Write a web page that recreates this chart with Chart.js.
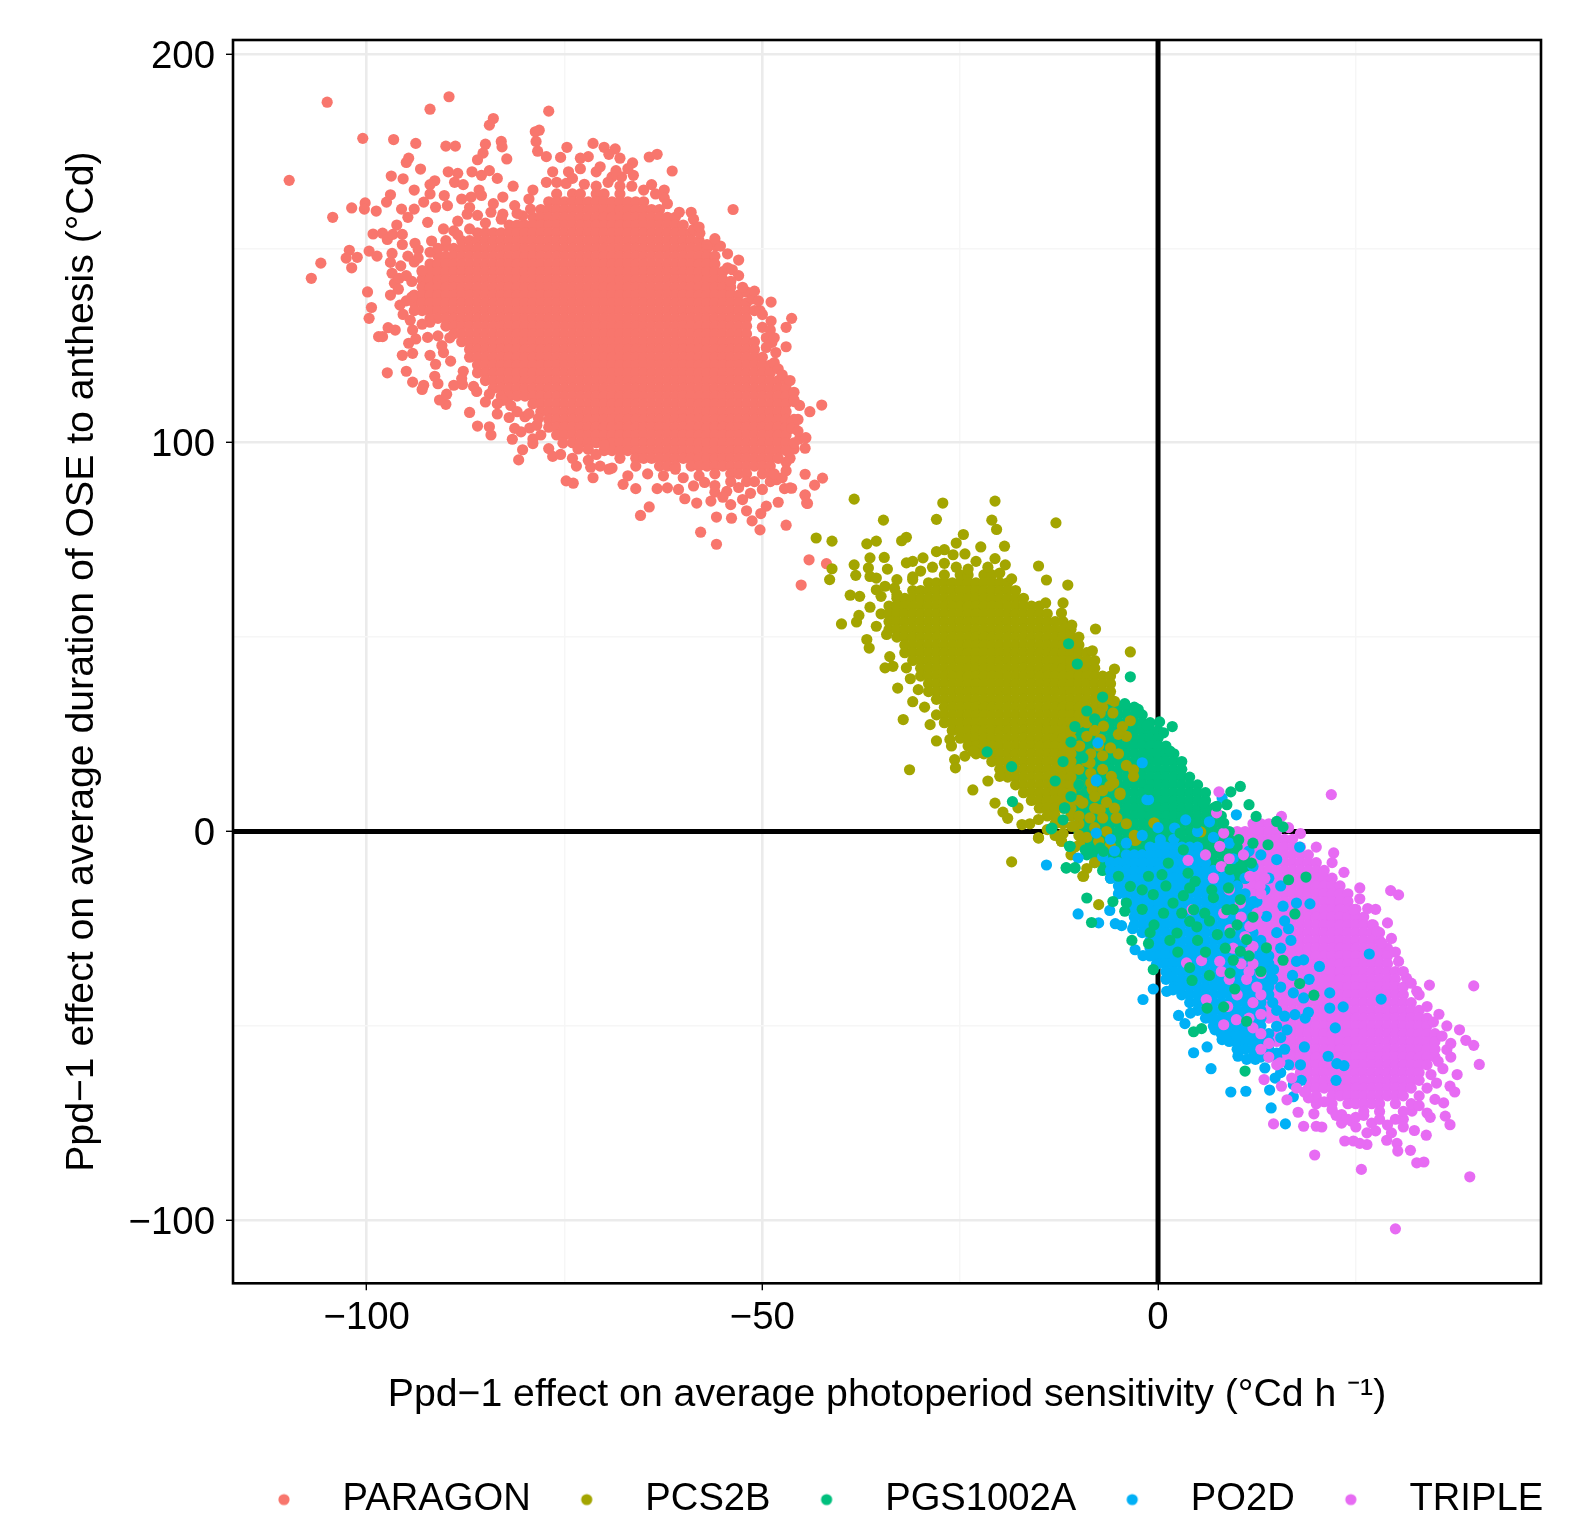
<!DOCTYPE html>
<html><head><meta charset="utf-8">
<script src="https://cdn.jsdelivr.net/npm/chart.js@4"></script>
<style>html,body{margin:0;padding:0;background:#fff}canvas{display:block}</style>
</head><body><canvas id="c" width="1573" height="1520"></canvas>
<script>
const seriesNames = ["PARAGON","PCS2B","PGS1002A","PO2D","TRIPLE"];
const seriesColors = ["#F8766D","#A3A500","#00BF7D","#00B0F6","#E76BF3"];
const xMajor = [-100,-50,0];
const xMinor = [-75,-25,25];
const yMajor = [-100,0,100,200];
const yMinor = [-50,50,150];
const refLineAt = 0;
const xTitle = "Ppd\u22121 effect on average photoperiod sensitivity (\u00B0Cd h \u207B\u00B9)";
const yTitle = "Ppd\u22121 effect on average duration of OSE to anthesis (\u00B0Cd)";

// Solid regions of the clouds, read row by row: [y, x, x, ...]
const paragonCore = [
[164,-76,-74,-73,-71,-70,-68],
[162,-77,-76,-75,-74,-73,-72,-71,-70,-69,-68,-67,-66,-65],
[160,-78,-77,-76,-75,-74,-73,-72,-71,-70,-69,-68,-67,-66,-65,-64,-63],
[158,-79,-78,-77,-76,-75,-74,-73,-72,-71,-70,-69,-68,-67,-66,-65,-64,-63,-62,-61],
[156,-82,-81,-80,-79,-78,-77,-76,-75,-74,-73,-72,-71,-70,-69,-68,-67,-66,-65,-64,-63,-62,-61,-60],
[154,-86,-85,-84,-83,-82,-81,-80,-79,-78,-77,-76,-75,-74,-73,-72,-71,-70,-69,-68,-67,-66,-65,-64,-63,-62,-61,-60,-59],
[152,-88,-87,-86,-85,-84,-83,-82,-81,-80,-79,-78,-77,-76,-75,-74,-73,-72,-71,-70,-69,-68,-67,-66,-65,-64,-63,-62,-61,-60,-59,-58],
[150,-89,-88,-87,-86,-85,-84,-83,-82,-81,-80,-79,-78,-77,-76,-75,-74,-73,-72,-71,-70,-69,-68,-67,-66,-65,-64,-63,-62,-61,-60,-59,-58,-57],
[148,-91,-90,-89,-88,-87,-86,-85,-84,-83,-82,-81,-80,-79,-78,-77,-76,-75,-74,-73,-72,-71,-70,-69,-68,-67,-66,-65,-64,-63,-62,-61,-60,-59,-58,-57,-56],
[146,-92,-91,-90,-89,-88,-87,-86,-85,-84,-83,-82,-81,-80,-79,-78,-77,-76,-75,-74,-73,-72,-71,-70,-69,-68,-67,-66,-65,-64,-63,-62,-61,-60,-59,-58,-57,-56],
[144,-93,-92,-91,-90,-89,-88,-87,-86,-85,-84,-83,-82,-81,-80,-79,-78,-77,-76,-75,-74,-73,-72,-71,-70,-69,-68,-67,-66,-65,-64,-63,-62,-61,-60,-59,-58,-57,-56,-55],
[142,-93,-92,-91,-90,-89,-88,-87,-86,-85,-84,-83,-82,-81,-80,-79,-78,-77,-76,-75,-74,-73,-72,-71,-70,-69,-68,-67,-66,-65,-64,-63,-62,-61,-60,-59,-58,-57,-56,-55],
[140,-93,-92,-91,-90,-89,-88,-87,-86,-85,-84,-83,-82,-81,-80,-79,-78,-77,-76,-75,-74,-73,-72,-71,-70,-69,-68,-67,-66,-65,-64,-63,-62,-61,-60,-59,-58,-57,-56,-55,-54],
[138,-94,-93,-92,-91,-90,-89,-88,-87,-86,-85,-84,-83,-82,-81,-80,-79,-78,-77,-76,-75,-74,-73,-72,-71,-70,-69,-68,-67,-66,-65,-64,-63,-62,-61,-60,-59,-58,-57,-56,-55,-54,-53],
[136,-94,-93,-92,-91,-90,-89,-88,-87,-86,-85,-84,-83,-82,-81,-80,-79,-78,-77,-76,-75,-74,-73,-72,-71,-70,-69,-68,-67,-66,-65,-64,-63,-62,-61,-60,-59,-58,-57,-56,-55,-54,-53,-52],
[134,-93,-92,-91,-90,-89,-88,-87,-86,-85,-84,-83,-82,-81,-80,-79,-78,-77,-76,-75,-74,-73,-72,-71,-70,-69,-68,-67,-66,-65,-64,-63,-62,-61,-60,-59,-58,-57,-56,-55,-54,-53,-52,-51],
[132,-92,-91,-90,-89,-88,-87,-86,-85,-84,-83,-82,-81,-80,-79,-78,-77,-76,-75,-74,-73,-72,-71,-70,-69,-68,-67,-66,-65,-64,-63,-62,-61,-60,-59,-58,-57,-56,-55,-54,-53,-52],
[130,-90,-89,-88,-87,-86,-85,-84,-83,-82,-81,-80,-79,-78,-77,-76,-75,-74,-73,-72,-71,-70,-69,-68,-67,-66,-65,-64,-63,-62,-61,-60,-59,-58,-57,-56,-55,-54,-53,-52],
[128,-89,-88,-87,-86,-85,-84,-83,-82,-81,-80,-79,-78,-77,-76,-75,-74,-73,-72,-71,-70,-69,-68,-67,-66,-65,-64,-63,-62,-61,-60,-59,-58,-57,-56,-55,-54,-53,-52],
[126,-88,-87,-86,-85,-84,-83,-82,-81,-80,-79,-78,-77,-76,-75,-74,-73,-72,-71,-70,-69,-68,-67,-66,-65,-64,-63,-62,-61,-60,-59,-58,-57,-56,-55,-54,-53,-52,-51],
[124,-87,-86,-85,-84,-83,-82,-81,-80,-79,-78,-77,-76,-75,-74,-73,-72,-71,-70,-69,-68,-67,-66,-65,-64,-63,-62,-61,-60,-59,-58,-57,-56,-55,-54,-53,-52,-51],
[122,-87,-86,-85,-84,-83,-82,-81,-80,-79,-78,-77,-76,-75,-74,-73,-72,-71,-70,-69,-68,-67,-66,-65,-64,-63,-62,-61,-60,-59,-58,-57,-56,-55,-54,-53,-52,-51,-50],
[120,-86,-85,-84,-83,-82,-81,-80,-79,-78,-77,-76,-75,-74,-73,-72,-71,-70,-69,-68,-67,-66,-65,-64,-63,-62,-61,-60,-59,-58,-57,-56,-55,-54,-53,-52,-51,-50,-49],
[118,-86,-85,-84,-83,-82,-81,-80,-79,-78,-77,-76,-75,-74,-73,-72,-71,-70,-69,-68,-67,-66,-65,-64,-63,-62,-61,-60,-59,-58,-57,-56,-55,-54,-53,-52,-51,-50,-49],
[116,-85,-84,-83,-82,-81,-80,-79,-78,-77,-76,-75,-74,-73,-72,-71,-70,-69,-68,-67,-66,-65,-64,-63,-62,-61,-60,-59,-58,-57,-56,-55,-54,-53,-52,-51,-50,-49,-48,-47],
[114,-84,-83,-82,-81,-80,-79,-78,-77,-76,-75,-74,-73,-72,-71,-70,-69,-68,-67,-66,-65,-64,-63,-62,-61,-60,-59,-58,-57,-56,-55,-54,-53,-52,-51,-50,-49,-48,-47],
[112,-83,-82,-81,-80,-79,-78,-77,-76,-75,-74,-73,-72,-71,-70,-69,-68,-67,-66,-65,-64,-63,-62,-61,-60,-59,-58,-57,-56,-55,-54,-53,-52,-51,-50,-49,-48,-47],
[110,-79,-78,-77,-76,-75,-74,-73,-72,-71,-70,-69,-68,-67,-66,-65,-64,-63,-62,-61,-60,-59,-58,-57,-56,-55,-54,-53,-52,-51,-50,-49,-48,-47],
[108,-78,-77,-76,-75,-74,-73,-72,-71,-70,-69,-68,-67,-66,-65,-64,-63,-62,-61,-60,-59,-58,-57,-56,-55,-54,-53,-52,-51,-50,-49,-48,-47],
[106,-77,-76,-75,-74,-73,-72,-71,-70,-69,-68,-67,-66,-65,-64,-63,-62,-61,-60,-59,-58,-57,-56,-55,-54,-53,-52,-51,-50,-49,-48,-47,-46],
[104,-77,-76,-75,-74,-73,-72,-71,-70,-69,-68,-67,-66,-65,-64,-63,-62,-61,-60,-59,-58,-57,-56,-55,-54,-53,-52,-51,-50,-49,-48,-47,-46],
[102,-76,-75,-74,-73,-72,-71,-70,-69,-68,-67,-66,-65,-64,-63,-62,-61,-60,-59,-58,-57,-56,-55,-54,-53,-52,-51,-50,-49,-48,-47],
[100,-74,-73,-72,-71,-70,-69,-68,-67,-66,-65,-64,-63,-62,-61,-60,-59,-58,-57,-56,-55,-54,-53,-52,-51,-50,-49,-48,-47],
[98,-70,-69,-68,-67,-66,-65,-64,-63,-62,-61,-60,-59,-58,-57,-56,-55,-54,-53,-52,-51,-50,-49,-48],
[96,-66,-65,-64,-63,-62,-61,-60,-59,-58,-57,-56,-55,-54,-53,-52,-51,-50,-49,-48],
[94,-63,-62,-61,-59,-58,-57,-56,-55,-54,-53,-52,-51,-50,-49],
[92,-56,-54,-53,-52,-50,-49],
[90,-54,-52,-51]
];
const pcs2bCore = [
[66,-27,-25,-24,-22,-21],
[64,-29,-28,-27,-26,-25,-24,-23,-22,-21,-20,-19],
[62,-31,-30,-29,-28,-27,-26,-25,-24,-23,-22,-21,-20,-19,-18],
[60,-33,-32,-31,-30,-29,-28,-27,-26,-25,-24,-23,-22,-21,-20,-19,-18,-17],
[58,-34,-33,-32,-31,-30,-29,-28,-27,-26,-25,-24,-23,-22,-21,-20,-19,-18,-17,-16,-15],
[56,-35,-34,-33,-32,-31,-30,-29,-28,-27,-26,-25,-24,-23,-22,-21,-20,-19,-18,-17,-16,-15,-14],
[54,-34,-33,-32,-31,-30,-29,-28,-27,-26,-25,-24,-23,-22,-21,-20,-19,-18,-17,-16,-15,-14,-13,-12],
[52,-34,-33,-32,-31,-30,-29,-28,-27,-26,-25,-24,-23,-22,-21,-20,-19,-18,-17,-16,-15,-14,-13,-12,-11],
[50,-33,-32,-31,-30,-29,-28,-27,-26,-25,-24,-23,-22,-21,-20,-19,-18,-17,-16,-15,-14,-13,-12,-11,-10],
[48,-32,-31,-30,-29,-28,-27,-26,-25,-24,-23,-22,-21,-20,-19,-18,-17,-16,-15,-14,-13,-12,-11,-10],
[46,-32,-31,-30,-29,-28,-27,-26,-25,-24,-23,-22,-21,-20,-19,-18,-17,-16,-15,-14,-13,-12,-11,-10,-9],
[44,-31,-30,-29,-28,-27,-26,-25,-24,-23,-22,-21,-20,-19,-18,-17,-16,-15,-14,-13,-12,-11,-10,-9,-8],
[42,-30,-29,-28,-27,-26,-25,-24,-23,-22,-21,-20,-19,-18,-17,-16,-15,-14,-13,-12,-11,-10,-9,-8],
[40,-30,-29,-28,-27,-26,-25,-24,-23,-22,-21,-20,-19,-18,-17,-16,-15,-14,-13,-12,-11,-10,-9,-8,-7,-6],
[38,-29,-28,-27,-26,-25,-24,-23,-22,-21,-20,-19,-18,-17,-16,-15,-14,-13,-12,-11,-10,-9,-8,-7,-6],
[36,-29,-28,-27,-26,-25,-24,-23,-22,-21,-20,-19,-18,-17,-16,-15,-14,-13,-12,-11,-10,-9,-8,-7,-6],
[34,-28,-27,-26,-25,-24,-23,-22,-21,-20,-19,-18,-17,-16,-15,-14,-13,-12,-11,-10,-9,-8,-7,-6],
[32,-27,-26,-25,-24,-23,-22,-21,-20,-19,-18,-17,-16,-15,-14,-13,-12,-11,-10,-9,-8,-7],
[30,-28,-27,-26,-25,-24,-23,-22,-21,-20,-19,-18,-17,-16,-15,-14,-13,-12,-11,-10,-9,-8],
[28,-27,-26,-25,-24,-23,-22,-21,-20,-19,-18,-17,-16,-15,-14,-13,-12,-11,-10],
[26,-26,-25,-24,-23,-22,-21,-20,-19,-18,-17,-16,-15,-14,-13,-12,-11],
[24,-25,-24,-23,-22,-21,-20,-19,-18,-17,-16,-15,-14,-13,-12,-11],
[22,-24,-23,-22,-21,-20,-19,-18,-17,-16,-15,-14,-13,-12,-11,-10],
[20,-23,-22,-21,-20,-19,-18,-17,-16,-15,-14,-13,-12,-11],
[18,-21,-20,-19,-18,-17,-16,-15,-14,-13,-12,-11],
[16,-20,-19,-18,-17,-16,-15,-14,-13,-12,-11,-10],
[14,-19,-18,-17,-16,-15,-14,-13,-12,-11],
[12,-18,-17,-16,-15,-14,-13,-12,-11,-10],
[10,-17,-16,-15,-14,-13,-12,-11],
[8,-16,-15,-14,-13,-12,-11,-10],
[6,-15,-14,-13,-12,-11],
[4,-14,-13,-11,-10],
[2,-13,-12,-10]
];
const pgsCore = [
[32,-6,-5,-4,-3],
[30,-8,-7,-6,-5,-4,-3,-2],
[28,-9,-8,-7,-6,-5,-4,-3,-2,-1],
[26,-10,-9,-8,-7,-6,-5,-4,-3,-2,-1,0],
[24,-10,-9,-8,-7,-6,-5,-4,-3,-2,-1,0],
[22,-10,-9,-8,-7,-6,-5,-4,-3,-2,-1,0,1],
[20,-11,-10,-9,-8,-7,-6,-5,-4,-3,-2,-1,0,1,2],
[18,-11,-10,-9,-8,-7,-6,-5,-4,-3,-2,-1,0,1,2,3],
[16,-11,-10,-9,-8,-7,-6,-5,-4,-3,-2,-1,0,1,2,3],
[14,-12,-11,-10,-9,-8,-7,-6,-5,-4,-3,-2,-1,0,1,2,3,4],
[12,-12,-11,-10,-9,-8,-7,-6,-5,-4,-3,-2,-1,0,1,2,3,4,5],
[10,-12,-11,-10,-9,-8,-7,-6,-5,-4,-3,-2,-1,0,1,2,3,4,5,6],
[8,-12,-11,-10,-9,-8,-7,-6,-5,-4,-3,-2,-1,0,1,2,3,4,5,6],
[6,-11,-10,-9,-8,-7,-6,-5,-4,-3,-2,-1,0,1,2,3,4,5,6,7],
[4,-11,-10,-9,-8,-7,-6,-5,-4,-3,-2,-1,0,1,2,3,4,5,6,7,8],
[2,-10,-9,-8,-7,-6,-5,-4,-3,-2,-1,0,1,2,3,4,5,6,7,8],
[0,-10,-9,-8,-7,-6,-5,-4,-3,-2,-1,0,1,2,3,4,5,6,7,8,9],
[-2,-9,-8,-7,-6,-5,-4,-3,-2,-1,0,1,2,3,4,5,6,7,8,9],
[-4,-9,-8,-7,-6,-5,-4,-3,-2,-1,0,1,2,3,4,5,6,7,8,9,10],
[-6,-9,-8,-7,-6,-5,-4,-3,-2,-1,0,1,2,3,4,5,6,7,8,9,10,11],
[-8,-8,-7,-6,-5,-4,-3,-2,-1,0,1,2,3,4,5,6,7,8,9,10,11],
[-10,-7,-6,-5,-4,-3,-2,-1,0,1,2,3,4,5,6,7,8,9,10,11],
[-12,-6,-5,-4,-3,-2,-1,0,1,2,3,4,5,6,7,8,9,10,11],
[-14,-4,-3,-2,-1,0,1,2,3,4,5,6,7,8,9,10]
];
const po2dCore = [
[-4,-1,0,1,2,3,4,5],
[-6,-4,-3,-2,-1,0,1,2,3,4,5],
[-8,-6,-5,-4,-3,-2,-1,0,1,2,3,4,5,6],
[-10,-6,-5,-4,-3,-2,-1,0,1,2,3,4,5,6,7],
[-12,-6,-5,-4,-3,-2,-1,0,1,2,3,4,5,6,7,8,9],
[-14,-5,-4,-3,-2,-1,0,1,2,3,4,5,6,7,8,9,10],
[-16,-5,-4,-3,-2,-1,0,1,2,3,4,5,6,7,8,9,10,11],
[-18,-4,-3,-2,-1,0,1,2,3,4,5,6,7,8,9,10,11,12],
[-20,-3,-2,-1,0,1,2,3,4,5,6,7,8,9,10,11,12],
[-22,-3,-2,-1,0,1,2,3,4,5,6,7,8,9,10,11],
[-24,-3,-2,-1,0,1,2,3,4,5,6,7,8,9,10,11],
[-26,-2,-1,0,1,2,3,4,5,6,7,8,9,10,11,12],
[-28,-1,0,1,2,3,4,5,6,7,8,9,10,11,12,13],
[-30,-1,0,1,2,3,4,5,6,7,8,9,10,11,12,13],
[-32,-1,0,1,2,3,4,5,6,7,8,9,10,11,12,13,14],
[-34,0,1,2,3,4,5,6,7,8,9,10,11,12,13,14],
[-36,1,2,3,4,5,6,7,8,9,10,11,12,13,14],
[-38,1,2,3,4,5,6,7,8,9,10,11,12,13,14],
[-40,2,3,4,5,6,7,8,9,10,11,12,13,14],
[-42,3,4,5,6,7,8,9,10,11,12,13,14],
[-44,4,5,6,7,8,9,10,11,12,13],
[-46,5,6,7,8,9,10,11,12,13],
[-48,6,7,8,9,10,11,12,13],
[-50,7,8,9,10,11,12,13],
[-52,8,9,10,11,12,13,14],
[-54,9,10,11,12,13,14],
[-56,10,11,12,13,14],
[-58,12,13,14,15]
];
const tripleCore = [
[2,12,13,14,15],
[0,10,11,12,13,14,15],
[-2,10,11,12,13,14,15,16,17],
[-4,10,11,12,13,14,15,16,17,18],
[-6,10,11,12,13,14,15,16,17,18,19],
[-8,11,12,13,14,15,16,17,18,19,20],
[-10,11,12,13,14,15,16,17,18,19,20,21],
[-12,11,12,13,14,15,16,17,18,19,20,21,22],
[-14,11,12,13,14,15,16,17,18,19,20,21,22,23],
[-16,12,13,14,15,16,17,18,19,20,21,22,23,24],
[-18,12,13,14,15,16,17,18,19,20,21,22,23,24],
[-20,13,14,15,16,17,18,19,20,21,22,23,24,25],
[-22,13,14,15,16,17,18,19,20,21,22,23,24,25,26],
[-24,13,14,15,16,17,18,19,20,21,22,23,24,25,26,27],
[-26,13,14,15,16,17,18,19,20,21,22,23,24,25,26,27,28],
[-28,13,14,15,16,17,18,19,20,21,22,23,24,25,26,27,28],
[-30,13,14,15,16,17,18,19,20,21,22,23,24,25,26,27,28,29],
[-32,13,14,15,16,17,18,19,20,21,22,23,24,25,26,27,28,29],
[-34,13,14,15,16,17,18,19,20,21,22,23,24,25,26,27,28,29],
[-36,13,14,15,16,17,18,19,20,21,22,23,24,25,26,27,28,29,30],
[-38,13,14,15,16,17,18,19,20,21,22,23,24,25,26,27,28,29,30],
[-40,14,15,16,17,18,19,20,21,22,23,24,25,26,27,28,29,30,31],
[-42,14,15,16,17,18,19,20,21,22,23,24,25,26,27,28,29,30,31],
[-44,14,15,16,17,18,19,20,21,22,23,24,25,26,27,28,29,30,31,32],
[-46,14,15,16,17,18,19,20,21,22,23,24,25,26,27,28,29,30,31,32,33],
[-48,14,15,16,17,18,19,20,21,22,23,24,25,26,27,28,29,30,31,32,33,34],
[-50,15,16,17,18,19,20,21,22,23,24,25,26,27,28,29,30,31,32,33,34],
[-52,15,16,17,18,19,20,21,22,23,24,25,26,27,28,29,30,31,32,33,34,35],
[-54,15,16,17,18,19,20,21,22,23,24,25,26,27,28,29,30,31,32,33,34,35],
[-56,16,17,18,19,20,21,22,23,24,25,26,27,28,29,30,31,32,33,34,35],
[-58,16,17,18,19,20,21,22,23,24,25,26,27,28,29,30,31,32,33,34,35],
[-60,17,18,19,20,21,22,23,24,25,26,27,28,29,30,31,32,33,34],
[-62,18,19,20,21,22,23,24,25,26,27,28,29,30,31,32,33],
[-64,19,20,21,22,23,24,25,26,27,28,29,30,31,32,33],
[-66,19,20,21,22,23,24,25,26,27,28,29,30,31,32],
[-68,20,22,23,24,25,26,27,28,29,30,31],
[-70,22,24,25,26,27,28,30],
[-72,26,28]
];

// Individually visible dots: x,y pairs
const paragonDots = [-105,187.6,-89.6,189,-92,185.8,-77,185.3,-84,183.4,-84.5,181.7,-78.2,180.4,-78.7,180,-78.6,177.5,-78.4,175,-77.3,173.6,-100.5,178.3,-96.6,178,-93.8,177,-90,176.3,-88.8,176.3,-85,176.8,-83,177.5,-82.9,176.1,-82.3,173,-74.7,176,-71.4,177,-70,176,-68.6,175.6,-69.4,174.2,-68,173.2,-66.4,172,-64.3,173.5,-63.3,174.2,-61.4,169.9,-109.8,167.5,-94.7,173.2,-95,172.1,-93.2,170.4,-96.9,168.6,-95.4,167.9,-85.3,174.5,-86,172.8,-86.7,169.7,-85.5,168.8,-84.5,170,-89.7,169.7,-88.5,169.3,-88.9,167,-87.8,166.4,-83.5,168,-81.5,166,-79,165,-91.4,167.4,-92,166.4,-94,165,-92,164,-85.8,165,-85.5,163.6,-88,162.7,-82.8,163.2,-90.2,163.6,-97,163.8,-97.5,161.9,-100.2,161.7,-100.3,160.1,-101.9,160.4,-98.8,159.6,-104.3,158,-53.7,160,-62.4,165,-62.4,163,-64,166.4,-66.3,168.8,-67.8,168.4,-69,168.4,-74.8,166.7,-77.3,167,-76.5,169.7,-72,173.6,-73,173.2,-75.5,173.4,-74.5,169.7,-71,169.7,-60.5,159.3,-59,159.3,-58.7,157.5,-58.7,154.9,-57.9,153.9,-55.9,150.6,-55.3,150.6,-54.4,148.6,-54.4,145,-53.8,144.5,-53,143,-54,141.5,-52,138.8,-51.3,137,-48.9,136.2,-50.3,134,-46.3,132,-48.9,131.3,-47,129.7,-50,129.7,-49.5,127,-48.8,125.8,-47,124.7,-49.5,124.5,-48.3,123.2,-48.5,120.6,-46,110.6,-45.3,109.6,-44,108,-42.5,109.7,-46.3,105.4,-46.3,103.7,-45.3,101,-44.5,101.3,-46,98.4,-44.6,98.6,-47,95,-47,92.8,-44.6,91.9,-42.4,90.9,-43.4,89.1,-46.3,88.3,-47.2,88.2,-44.6,86.5,-44.3,84.4,-48,84.7,-49.5,83.7,-50.2,81.8,-47,78.8,-51.3,79.9,-50.3,77.6,-53.9,80.6,-55.8,80.9,-57.8,77,-55.8,73.9,-64.3,83.5,-65.4,81.3,-52.5,85.4,-54,84.1,-58.3,84.5,-59.8,85.6,-60.6,88,-62,88.4,-63.3,88.2,-66,88.2,-67.6,89.3,-56,87.3,-58.7,88.9,-57.3,89.8,-61,93.2,-74.8,90.2,-73.9,89.6,-71.4,91,-71.7,93.7,-69.4,93.2,-70.5,94,-73.5,94,-74,96,-72,98.3,-73.3,98.4,-75.2,99.9,-70,99.5,-80.8,95.6,-80.3,98.2,-79,99.8,-81.6,100.9,-80.5,102.8,-79.4,103.8,-81.3,103.7,-78.3,106.3,-80,106.7,-82,106.5,-84.3,102,-84.5,104.1,-86,104.3,-83.5,107.4,-87,107.8,-82.8,110.9,-81.8,109.6,-90,109.9,-90.8,111,-89.9,112.5,-86.1,113.2,-84.5,112.5,-87.9,115,-89,114.8,-91,115.2,-92.8,114.8,-93,113.7,-94.2,115.6,-97.4,118,-95,118.4,-91.4,117.1,-91.3,120.2,-89.4,121,-92,122.5,-94.2,123,-95.5,122.5,-90.3,123.2,-87.8,118.4,-94.7,125.6,-93.8,126.7,-92.3,127.1,-98.5,127.3,-98,127.3,-97.3,129.6,-96.4,129,-94.2,129,-99.7,132,-99.4,134.8,-99.9,138.8,-97,138,-95.8,135.4,-95.4,133,-94.3,137.5,-94,134,-107,142.3,-105.8,146.2,-102.2,149.5,-102.6,147.5,-101.2,147.7,-101.9,145,-99.7,149.3,-98.7,148,-96.8,148.7,-97,146.4,-95.7,145.5,-96.8,143.6,-96.5,141,-95.9,142.3,-94.3,141.5,-93,144.3,-99.2,153.7,-98,153.9,-97.4,152.3,-96.7,153.6,-95.5,151,-93.9,151.3,-95.5,153.6,-96.2,156,-95.6,160.1,-94,160.1,-94.8,158,-92.8,161.9,-91.3,160.6,-89.8,161,-87.3,158.8,-84.3,159.3,-92.3,156.7,-90.3,155,-89,154.5,-91.8,151.9,-90,150.6,-81.3,161,-79.5,162.7,-82.8,158.8,-80.3,158.4,-86.8,163.2,-79.3,160.1,-93.5,149.7,-94.8,148,-44.1,69.9,-41.9,68.9,-45.1,63.4,-44.4,84.5,-44.6,86.6,-46.5,88.4,
-76,167,-74,168,-72.5,166.5,-71,166,-69.5,167,-68,166,-66.5,166,-65,165,-63.5,164,-62,161.5,-73,170.5,-70.5,171,-68.5,170,-67,170.5,-66,94,-64.5,92,-62.5,91.5,-60,91,-58,91.5,-56,89,-54.5,87.5,-53,88.5,-51.5,87,-50,88,-49,90,-48.2,90.5,-55,86,-52,82.5,-56.5,85,-68,96,-69,93.5,-67,91.5,-88,116.5,-86.5,114.5,-85,110.5,-83.5,110,-81,108,-79.5,107.5,-79,101,-78,102,-78.5,104.5,-77,98.5,-76.5,96.5,-75.5,97,-72,95.5,-71,97,-90.5,125,-91,127.5,-89.5,127,-92,131,-93,130.5,-94.5,131.5,-95,136.5,-96,139.5,-95,143,-94,146.5,-93.5,147.5,-92,149,-91,150,-90,152,-88.5,153.5,-87,155,-85,156.5,-83,157.5,-86,158.5,-88.5,157,-81,159,-84,161.5,-87,160.5,-57,151,-56,152.5,-58,155.5,-53,147,-52.5,140,-51,139,-50.5,136.5,-50,133,-49,129,-48.5,127,-48,119,-47.5,117.5,-46.5,116,-46,113,-46,111,-45.5,106,-45.5,103,-46,100,-47,98,-46.5,96,-47.5,91,-48.5,92];
const pcs2bDots = [-38.4,85.5,-27.2,84.5,-20.6,85,-34.7,80.1,-28,80.3,-21,80.1,-20.4,77.7,-12.9,79.4,-43.2,75.5,-41.2,74.7,-36.8,74,-35.6,74.7,-32.4,74.8,-31.8,75.7,-24.6,76.4,-25.5,74.2,-22.4,73.2,-19.4,73.4,-24.4,71.4,-27,72.5,-28,72,-25.9,71.2,-29.7,70.4,-31,69.5,-31.8,69.1,-36.4,70.4,-34.6,70.5,-38.4,68.6,-41.2,67.6,-41.5,64.8,-38.2,65.9,-36.6,67.8,-34.2,67.5,-36.4,65.6,-35.6,65.2,-20.6,70.2,-19.3,68.6,-15.1,68.3,-14.1,64.7,-11.4,63.4,-14.2,58.8,-12,58.8,-12.2,56.2,-7.9,52.1,-10.9,53.1,-3.5,46.2,-5.5,41.8,-8.3,46.5,-38.9,60.8,-37.7,60.5,-35.6,62.2,-34.5,63.1,-33.3,62.6,-31,64.8,-40,53.4,-38.1,53.9,-37.8,55.6,-36.4,57.7,-36.8,49.4,-36.5,47.2,-35.6,52.8,-34.3,50.7,-34.5,42.1,-33.5,42.5,-33.9,45,-31.8,42.1,-31.3,39.3,-32.9,36.9,-31,33.4,-29.5,32,-30.3,36.5,-32.2,28.8,-31.4,15.9,-28.8,27.5,-28,23.3,-26.3,23.7,-26.1,22,-25.7,18.5,-25.6,16.4,-24.4,19.4,-23.4,20.7,-23.4,10.7,-21.5,13,-20,14.2,-20.6,7.3,-19.6,5,-19,3.4,-17.7,6.1,-17.2,1.8,-16.2,2,-15.1,3.1,-15.1,-1.6,-18.5,-7.8,-12.2,-2.5,-9.5,-11.5,-6,-3.8,-2.7,-2,-0.5,2.2,-5.2,3.5,-6.1,11.7,-3.1,15.9,-9.9,22,-8.6,17.7,-7.3,23.7,-5.7,30.5,-5.5,33.5,-7.3,30.5,-5.9,14.2,-4.8,9.5,-9.5,7.4,-8.6,3.5,-10.5,1.4,-4,24.5,-6.9,27.1,-15.1,-1.7,-9.4,-11.5,-7.5,-18.8,-0.5,2.2,5.4,-0.1,-2.9,-2.3,-6.1,-3.8,-5.3,3.5,-8.3,10.9,-12.2,-2.5,-9.9,-3.4,-10.9,1.3,-9.6,7.3,-7.3,5.6,-5.6,12.5,-4.8,9.9,-3.1,14.2,
-28.5,68,-27,69,-25.5,68,-24,67.5,-23,69.5,-21.5,68,-20,66.5,-18.5,65,-30,67,-31,65.5,-33,64.8,-33,61,-35,60.5,-9,28,-8,26,-9,24.5,-7.5,22,-8.5,20,-9,18,-7,19.5,-8.5,15,-7,16,-8.5,12.5,-7,10.5,-8,9,-6.5,7.5,-8,6,-7,3.5,-8,1,-6.5,0,-9,-1.5,-10.5,-4,-7.5,-2.5,-5,20,-4.5,27,-3.5,28.5,-5,25,-6,21.5,-4,17,-5.5,6,-4,2,-3,-1,-10,-1,-12,-0.5,-13,-1,-14,0.5,-11,-6,-8,-8,-9,-9.5];
const po2dDots = [-14.1,-8.6,-10.1,-6.8,-10.1,-21.2,-7.5,-23.5,-5.4,-23.7,-4.6,-24.2,-6.1,-20.3,-3.2,-25,-2.9,-30.4,-1.9,-31.9,-0.6,-40.5,-1.9,-43.2,1.1,-41.1,1.9,-40.7,1.2,-36.8,-0.2,-34.2,2.6,-47.3,3.4,-49.4,4.1,-46.7,6.2,-47.9,7.2,-51,8.1,-53.5,9.9,-54,6.2,-55.4,4.5,-56.9,6.7,-61,10.1,-57.8,11.2,-58.6,12.3,-58.6,9.2,-67,11.1,-66.8,14.1,-66.5,17.1,-68.2,14.3,-71.1,16.1,-75.2,13.5,-60.8,14.8,-63.4,17.1,-65.1,18.1,-64,17.9,-4,15,-7.2,17.5,-18.4,19.2,-18.6,15.8,-19.2,13.7,-21.8,16.8,-28,18.4,-33,17.5,-33.4,20.4,-34.7,14.6,-35.5,13.5,-33.4,19.1,-38,17.1,-41.5,18.4,-42.8,21.7,-41.5,23.4,-45.1,28.2,-43.1,21.7,-45.4,17.3,-47.1,18.6,-48,16.3,-51,15,-50.1,18.5,-55.4,21.5,-57.8,22.6,-59.7,23.5,-60.2,22.5,-64,26.7,-31.5,22.4,-50.5,15,-57,12.9,-43.2,10,-50,10,-52.7,-2,17.7,-7.6,22.8,-7.8,13,-1.2,8.2,-1.4,8.2,2.1,0.9,0.3,-2.1,9.9,4.3,8.1,8.6,-7.8,-0.4,-7.8,13.3,
-6,-2,-4,-3,-2,-1,0,1,2,-2,-7,-6.5,-5.5,-5,3.5,3,5,0,7,-1.5,6.5,2.5,9,-3,9.5,-7,8.5,-10,11,-12,12,-9,13,-6,11.5,-5,13.5,-15,12.5,-18,14,-12,15.5,-14,16,-23,15,-26,15.5,-30,14.5,-38,15.5,-40,14.5,-44,15,-46,16,-47.5,15.5,-53,16,-56,16.5,-60,15.5,-62,18,-60,17,-37,16.5,-25,19,-46.5];
const tripleDots = [21.9,9.5,22.2,-5.5,29.4,-15.2,30.4,-16.3,25.5,-17.3,26.5,-19.8,24.7,-20.1,27.2,-24,27.7,-25.7,28.3,-28.7,30.4,-33.4,31.4,-37.7,34.3,-39.5,39.9,-39.7,32.7,-41.1,34.8,-49,38.1,-51,38.9,-53.7,39.9,-55,40.6,-59.9,37.8,-62.5,35.9,-52.6,36.5,-56.1,35.4,-59.1,35.2,-64.7,36.9,-65.5,37.5,-67,35,-68.9,36.1,-69.8,34,-72.4,34.4,-73.5,36.3,-73.2,36.9,-75.4,32.4,-76.9,33.9,-78.1,32.1,-71.9,31,-74,28.9,-79.4,30.2,-80.2,30.3,-82.2,31.9,-82,32.7,-85.2,33.6,-85,39.4,-88.8,25.7,-86.9,19.8,-83.2,30,-102.2,23.6,-79.6,24.7,-79.6,26.4,-80.5,25.5,-80.2,26.4,-77.5,14.6,-75.2,18.4,-75.8,20,-75.8,20.7,-76,17.7,-72.2,19.7,-72.6,23.2,-75,24.5,-74.5,22,-71.5,23.2,-72.8,16.3,-69,15.6,-65.5,13.4,-63.8,16.9,-63.4,15.4,-59.5,3.8,-7.4,7.7,10.2,5.5,-33.2,7.8,-33.4,3.6,-33.8,8.3,-49.7,8.8,-45,9.9,-48.4,11.6,-11.5,13.5,-12,10.8,-6,8.3,-0.4,7.8,-3.8,7.4,4.8,15.6,3.9,11.6,-24.4,11.2,-38,4.3,-20.1,10.4,-18.4,12.9,-14.1,6.1,-43.2,9.1,-25.2,8.3,-21,
13,-16,14,-18.5,12.5,-21,12,-24,11,-27,12,-29.5,11.5,-31,12,-34,13,-36.5,11.5,-36,12.5,-40,13,-42,12,-44,13,-47,11.5,-48,12,-50.5,13,-52,14,-54.5,13,-56,14,-58,15,-60,10.5,-34,9,-38,10,-42,8,-36,9.5,-30,10.5,-22,9,-15,7,-12,9,-7,6,-6,11,-2,8,-9,
20,-70,21,-69.5,19,-68.5,22.5,-73,24,-74,25,-73.5,27,-75,28,-74,29,-75.5,30,-74,31,-72,32,-70,33,-68,34,-66,27.5,-77,29.5,-77.5,26,-73,18.5,-67,17.5,-66,25,-76,31,-76,33,-70.5,34.5,-62.5,36,-61,37,-58,37,-54.5,36.5,-50,35.5,-47,34,-45,33,-42,32,-39,31,-36,30,-31,29.5,-27.5,29,-23.5,27.5,-20,25.5,-14.5,23.5,-10.5,22,-8,20,-4,18,-0.5,16.5,1];
const pgsDots = [-11.3,48.3,-10.2,43.1,-3.5,39.8,-7,34.6,-21.6,20.5,-18.5,16.7,-18.4,7.7,-13.5,0.7,-11.6,-9.3,-10.5,-9.3,-11.2,-3.8,-11.8,6.1,-2.5,31.4,-4.2,32.9,-1.4,27.3,0.2,28.2,1.8,27,0.7,25.4,1.5,20.7,10.4,11.6,9.2,10.2,11.5,6.9,12.4,3.9,15,2.6,15.8,1.2,18.7,-11.7,16.5,-12.4,17.3,-21.2,19.7,-42.1,11.2,-48.8,11,-61.6,4.5,-51.5,5.5,-50.7,-9,-17.1,-8.4,-23.4,-11.6,-9.4,-10.5,-9.4,-3.3,-28,-1.2,-28.8,-0.6,-35.5,9.7,-40.5,8.3,-45.1,6.2,-45.4,4.3,-38.3,9.5,-33.1,10.4,-30.8,15.8,-33.1,13.7,-29.9,17.9,-39.1,9.1,-36.4,11.2,-27.8,9.1,-26.1,4,-23.1,4.9,-24.5,2.4,-26.1,4.5,-20.1,5.9,-21,8.7,-20.1,10.4,-17.5,9.1,-9.8,11.8,-8.1,10.4,-9,13.9,-3.4,12,-3,10.2,-2.1,8.3,2.2,5.7,7.3,7.4,6.5,8.7,6.9,4.9,2.2,3.2,-4.7,1.3,-8.1,-1.2,-11.5,0.5,-11.1,3.8,-10.7,4.7,-12.8,-3.5,-14.1,-0.6,-16.2,0.7,-21,1.9,-18.4,3.2,-16.5,6.8,-15,8.9,-14.5,-5.7,-18,-4,-18.4,-4.2,-20.5,-6.9,-5.1,-5,-11.5,-7.3,-4.2,-9.2,-4.7,-11.1,-3.8,-11.8,6,-13.4,0.9,-1.2,10.8,2.8,-0.4,
-11,23,-12,18,-13,13,-11,9,-12,3,-10,12,-9.5,19,-8,29,-10.5,27,-9,31,-2,-15,1,-14,4,-14.5,7,-17,9.5,-20,6.5,-23,3,-21,-0.5,-24,1.5,-28,5,-28,7.5,-26.5,10,-24,12,-22,2.5,-31,6,-31,8.5,-30,11.5,-32,13,-36,4,-35,6.5,-37,-2,-20,-1,-26];

const fromRows = rows => rows.flatMap(r => r.slice(1).map(x => ({x, y: r[0]})));
const fromPairs = a => a.filter((_, i) => i % 2 === 0).map((x, i) => ({x, y: a[2 * i + 1]}));

// Layers, listed bottom to top, because the dots of the groups interleave
const layers = [
  [0, fromRows(paragonCore)], [0, fromPairs(paragonDots)],
  [4, fromRows(tripleCore)], [2, fromRows(pgsCore)], [3, fromRows(po2dCore)], [1, fromRows(pcs2bCore)],
  [1, fromPairs(pcs2bDots)], [3, fromPairs(po2dDots)], [4, fromPairs(tripleDots)], [2, fromPairs(pgsDots)]
];

const dot = color => {
  const c = document.createElement('canvas'); c.width = c.height = 14;
  const g = c.getContext('2d'); g.fillStyle = color;
  g.beginPath(); g.arc(7, 7, 5.6, 0, Math.PI * 2); g.fill();
  return c;
};
const FONT = '"Liberation Sans", Arial, Helvetica, sans-serif';
const isMajor = (list, v) => list.includes(v);
const axis = (major, minor, min, max, title, isY) => ({
  type: 'linear', min, max,
  afterBuildTicks: s => { s.ticks = [...major, ...minor].sort((a, b) => a - b).map(value => ({value})); },
  afterFit: s => { if (isY) s.width = 233; else s.height = 172; },
  ticks: {
    autoSkip: false, maxRotation: 0, padding: isY ? 11 : 5, labelOffset: isY ? 3 : 0, color: '#000',
    font: {size: 38.4, family: FONT},
    callback: v => isMajor(major, v) ? String(v).replace('-', '\u2212') : ''
  },
  grid: {
    tickLength: 7,
    color: c => isMajor(major, c.tick.value) ? '#EBEBEB' : '#F6F6F6',
    lineWidth: c => isMajor(major, c.tick.value) ? 2.6 : 1.4,
    tickColor: c => isMajor(major, c.tick.value) ? '#000' : 'rgba(0,0,0,0)',
    tickWidth: c => isMajor(major, c.tick.value) ? 1.4 : 0
  },
  border: {display: false},
  title: {display: true, text: title, color: '#000', font: {size: 39.2, family: FONT, lineHeight: 1.2},
    padding: isY ? {top: 58.5} : {bottom: 36.5}}
});

const frame = {
  id: 'frame',
  afterLayout(chart) {
    const legend = chart.legend;
    legend.left = 228; legend.top = 1464; legend.right = chart.width; legend.bottom = chart.height;
  },
  beforeDatasetsDraw(chart) {
    const {ctx, chartArea: a, scales} = chart;
    const px = scales.x.getPixelForValue(refLineAt), py = scales.y.getPixelForValue(refLineAt);
    ctx.save(); ctx.strokeStyle = '#000'; ctx.lineWidth = 5; ctx.beginPath();
    ctx.moveTo(px, a.top); ctx.lineTo(px, a.bottom); ctx.moveTo(a.left, py); ctx.lineTo(a.right, py);
    ctx.stroke(); ctx.restore();
  },
  afterDatasetsDraw(chart) {
    const {ctx, chartArea: a} = chart;
    ctx.save(); ctx.strokeStyle = '#000'; ctx.lineWidth = 2.6;
    ctx.strokeRect(a.left, a.top, a.right - a.left, a.bottom - a.top); ctx.restore();
  }
};

new Chart(document.getElementById('c'), {
  type: 'scatter',
  data: {datasets: layers.map(([s, data], i) => ({
    label: seriesNames[s], data, backgroundColor: seriesColors[s],
    pointRadius: 5.6, pointBorderWidth: 0, pointHoverRadius: 5.6, order: layers.length - i
  }))},
  options: {
    responsive: false, animation: false, devicePixelRatio: 1, events: [],
    layout: {padding: {top: 40, right: 32, left: 0, bottom: 0}, autoPadding: false},
    scales: {
      x: axis(xMajor, xMinor, -116.9, 48.4, xTitle, false),
      y: axis(yMajor, yMinor, -116.2, 203.6, yTitle, true)
    },
    plugins: {
      tooltip: {enabled: false},
      legend: {
        position: 'bottom', align: 'start',
        labels: {
          usePointStyle: true, pointStyleWidth: 79, padding: 16.5, color: '#000',
          font: {size: 38.2, family: FONT},
          generateLabels: () => seriesNames.map((text, i) => ({
            text, fillStyle: seriesColors[i], strokeStyle: seriesColors[i], lineWidth: 0,
            pointStyle: dot(seriesColors[i]), hidden: false, datasetIndex: i
          }))
        }
      }
    }
  },
  plugins: [frame]
});
</script></body></html>
